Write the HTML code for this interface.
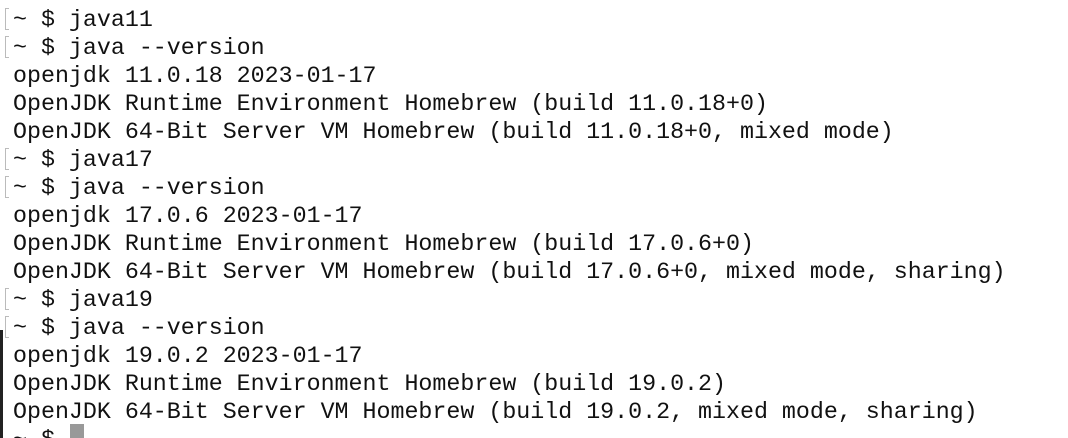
<!DOCTYPE html>
<html><head><style>
html,body{margin:0;padding:0;background:#fff;width:1068px;height:438px;overflow:hidden;position:relative}
.t{position:absolute;left:13px;top:6px;font-family:"Liberation Mono",monospace;font-size:23.3px;line-height:28px;color:#111;white-space:pre}
.b{position:absolute;left:5px;width:3px;height:20px;border:1px solid #bbb;border-right:none}
.strip{position:absolute;left:0;top:330px;width:3px;height:108px;background:#222}
.cur{position:absolute;left:70px;top:424px;width:14px;height:20px;background:#999}
</style></head><body>
<div class="strip"></div>
<div class="b" style="top:8px"></div>
<div class="b" style="top:36px"></div>
<div class="b" style="top:148px"></div>
<div class="b" style="top:176px"></div>
<div class="b" style="top:288px"></div>
<div class="b" style="top:316px"></div>
<div class="t">~ $ java11
~ $ java --version
openjdk 11.0.18 2023-01-17
OpenJDK Runtime Environment Homebrew (build 11.0.18+0)
OpenJDK 64-Bit Server VM Homebrew (build 11.0.18+0, mixed mode)
~ $ java17
~ $ java --version
openjdk 17.0.6 2023-01-17
OpenJDK Runtime Environment Homebrew (build 17.0.6+0)
OpenJDK 64-Bit Server VM Homebrew (build 17.0.6+0, mixed mode, sharing)
~ $ java19
~ $ java --version
openjdk 19.0.2 2023-01-17
OpenJDK Runtime Environment Homebrew (build 19.0.2)
OpenJDK 64-Bit Server VM Homebrew (build 19.0.2, mixed mode, sharing)
~ $</div>
<div class="cur"></div>
</body></html>
